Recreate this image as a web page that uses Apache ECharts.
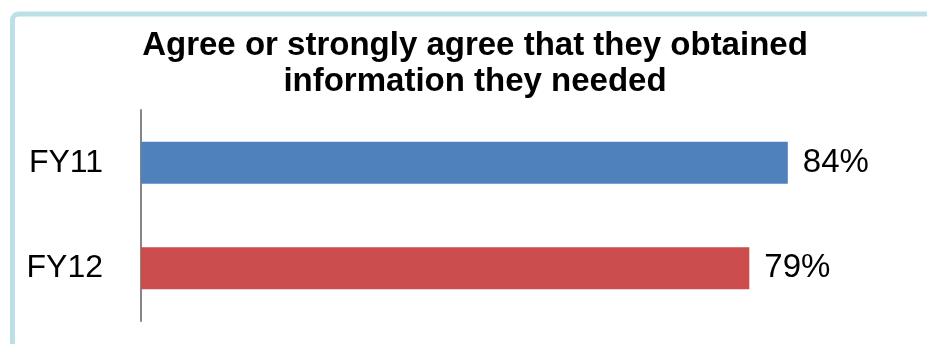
<!DOCTYPE html>
<html>
<head>
<meta charset="utf-8">
<script src="https://cdn.jsdelivr.net/npm/echarts@6/dist/echarts.min.js"></script>
<style>
  html, body { margin: 0; padding: 0; background: #ffffff; }
  #chart { width: 927px; height: 344px; }
</style>
</head>
<body>
<div id="chart"></div>
<script>
// Survey result: share agreeing they obtained the information they needed
const titleLines = ['Agree or strongly agree that they obtained', 'information they needed'];
const categories = ['FY11', 'FY12'];
const values = [84, 79];          // percent
const barColors = ['#4F81BD', '#CB4D4D'];

const chart = echarts.init(document.getElementById('chart'), null, { renderer: 'canvas' });

chart.setOption({
  backgroundColor: '#ffffff',
  animation: false,
  title: {
    text: titleLines.join('\n'),
    left: 470,
    textAlign: 'center',
    top: 23,
    textStyle: {
      fontFamily: 'Liberation Sans, Arial, sans-serif',
      fontWeight: 'bold',
      fontSize: 33,
      lineHeight: 36,
      color: '#000000'
    }
  },
  graphic: [{
    type: 'rect',
    silent: true,
    z: -1,
    shape: { x: 12.5, y: 14, width: 1000, height: 420, r: 6 },
    style: { fill: 'none', stroke: '#BCE0E5', lineWidth: 5 }
  }],
  grid: { left: 141, right: 16, top: 110, bottom: 23, containLabel: false },
  xAxis: {
    type: 'value',
    min: 0,
    max: 100,
    show: false
  },
  yAxis: {
    type: 'category',
    data: categories,
    inverse: true,
    axisLine: { show: true, lineStyle: { color: '#868686', width: 2 } },
    axisTick: { show: false },
    axisLabel: {
      margin: 38,
      fontFamily: 'Liberation Sans, Arial, sans-serif',
      fontSize: 32,
      color: '#000000'
    }
  },
  series: [{
    type: 'bar',
    data: values.map((v, i) => ({ value: v, itemStyle: { color: barColors[i] } })),
    barWidth: '40%',
    label: {
      show: true,
      position: 'right',
      distance: 15,
      formatter: '{c}%',
      fontFamily: 'Liberation Sans, Arial, sans-serif',
      fontSize: 33,
      color: '#000000'
    }
  }]
});
</script>
</body>
</html>
